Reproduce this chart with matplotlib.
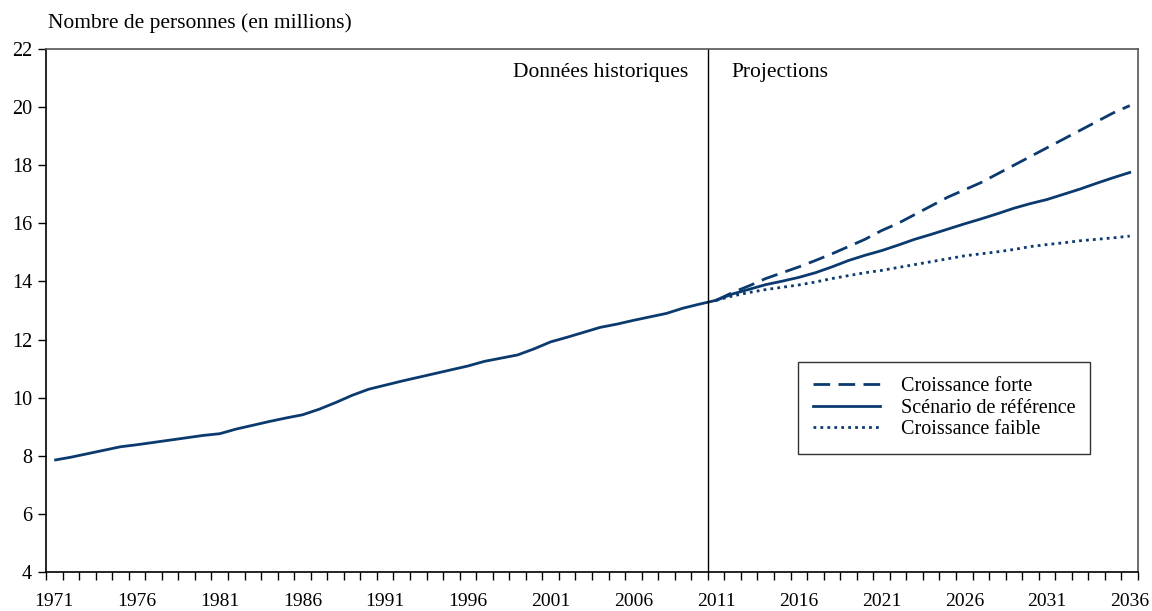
import matplotlib
matplotlib.use("Agg")
import matplotlib.pyplot as plt
from matplotlib.ticker import FixedLocator, NullFormatter

hist_years = list(range(1971, 2012))
hist_values = [7.85, 7.95, 8.07, 8.19, 8.31, 8.38, 8.46, 8.54, 8.62, 8.70,
               8.76, 8.92, 9.05, 9.18, 9.30, 9.41, 9.60, 9.83, 10.08, 10.29,
               10.43, 10.57, 10.70, 10.83, 10.96, 11.09, 11.25, 11.36, 11.47, 11.68,
               11.92, 12.08, 12.25, 12.42, 12.53, 12.66, 12.78, 12.90, 13.08, 13.22,
               13.35]

proj_years = list(range(2011, 2037))
ref_values = [13.35, 13.57, 13.73, 13.89, 14.01, 14.14, 14.30, 14.50, 14.72, 14.90,
              15.06, 15.25, 15.45, 15.62, 15.80, 15.98, 16.15, 16.33, 16.52, 16.68,
              16.82, 17.00, 17.18, 17.38, 17.57, 17.75]
high_values = [13.35, 13.62, 13.85, 14.10, 14.30, 14.50, 14.72, 14.95, 15.20, 15.45,
               15.75, 16.00, 16.30, 16.60, 16.90, 17.15, 17.40, 17.70, 18.00, 18.30,
               18.60, 18.90, 19.20, 19.50, 19.80, 20.05]
low_values = [13.35, 13.50, 13.62, 13.72, 13.80, 13.88, 13.98, 14.10, 14.20, 14.30,
              14.38, 14.48, 14.58, 14.68, 14.78, 14.88, 14.95, 15.02, 15.10, 15.20,
              15.27, 15.33, 15.40, 15.45, 15.50, 15.56]

label_years = list(range(1971, 2037, 5))
y_ticks = list(range(4, 23, 2))

color = "#0b3a6e"
plt.rcParams['font.family'] = ['Liberation Serif', 'DejaVu Serif']

fig = plt.figure(figsize=(11.52, 6.11), dpi=100)
ax = fig.add_axes([46/1152, 1-572/611, (1138-46)/1152, (572-49)/611])

ax.plot(hist_years, hist_values, color=color, lw=2.0, solid_capstyle='butt')
ax.plot(proj_years, high_values, color=color, lw=2.0, linestyle=(0, (6, 3)), label="Croissance forte")
ax.plot(proj_years, ref_values, color=color, lw=2.0, label="Scénario de référence")
ax.plot(proj_years, low_values, color=color, lw=2.0, linestyle=(0, (1, 1.5)), label="Croissance faible")

ax.axvline(2010.5, color="black", lw=1.0)

ax.set_xlim(1970.5, 2036.5)
ax.set_ylim(4, 22)

ax.set_xticks(label_years)
ax.set_xticklabels([str(y) for y in label_years], fontsize=14)
ax.xaxis.set_minor_locator(FixedLocator([1970.5 + k for k in range(67)]))
ax.xaxis.set_minor_formatter(NullFormatter())
ax.tick_params(axis='x', which='major', length=0, pad=15)
ax.tick_params(axis='x', which='minor', length=6, width=1, direction='out')

ax.set_yticks(y_ticks)
ax.set_yticklabels([str(v) for v in y_ticks], fontsize=14.5)
ax.tick_params(axis='y', length=6, width=1, direction='out', pad=4)

for side in ['left', 'bottom']:
    ax.spines[side].set_color('black')
    ax.spines[side].set_linewidth(1.2)
for side in ['top', 'right']:
    ax.spines[side].set_color('#555555')
    ax.spines[side].set_linewidth(1.2)

ax.text(2009.3, 21.2, "Données historiques", ha='right', va='center', fontsize=15.5)
ax.text(2011.9, 21.2, "Projections", ha='left', va='center', fontsize=15.5)

fig.text(48/1152, 1-23/611, "Nombre de personnes (en millions)", ha='left', va='center', fontsize=15.5)

leg = ax.legend(loc='upper left', bbox_to_anchor=((798-46)/1092, (572-362)/523),
                fontsize=14.5, frameon=True, fancybox=False, handlelength=3.3,
                borderpad=0.75, labelspacing=0.12, handletextpad=1.05, borderaxespad=0)
leg.get_frame().set_edgecolor('black')
leg.get_frame().set_linewidth(1.0)

fig.savefig("out.png", dpi=100)
